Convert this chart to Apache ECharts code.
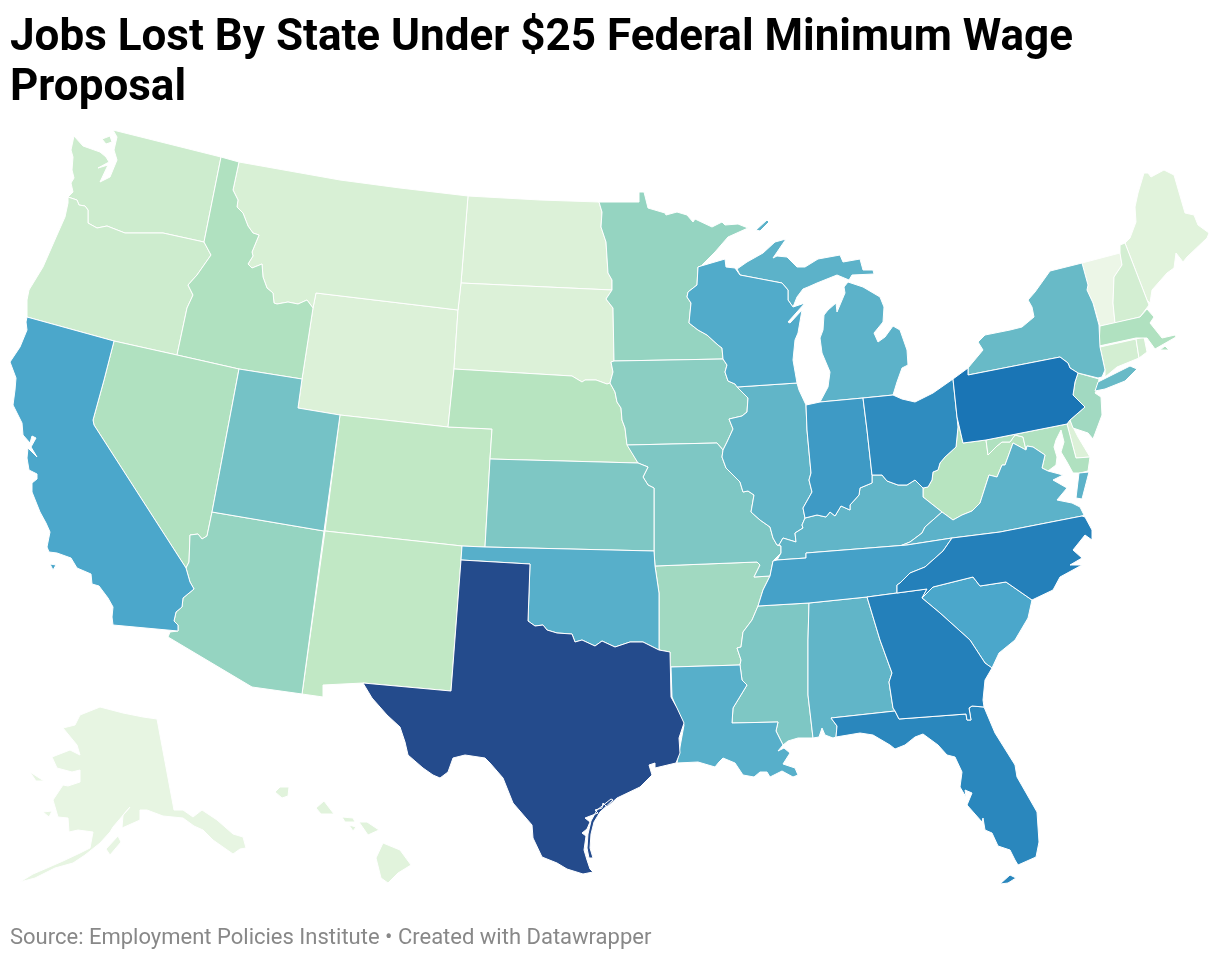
<!DOCTYPE html>
<html><head><meta charset="utf-8">
<style>html,body{margin:0;padding:0;background:#fff}#c{width:1220px;height:960px}</style>
<script src="https://cdn.jsdelivr.net/npm/echarts@6/dist/echarts.min.js"></script>
</head><body><div id="c"></div>
<script>
const titleText = "Jobs Lost By State Under $25 Federal Minimum Wage\nProposal";
const sourceText = "Source: Employment Policies Institute • Created with Datawrapper";
const rampColors = ['#eef7e8','#d9f0d6','#b9e5c0','#93d3c1','#6bbcc7','#4ba7cb','#2d8abe','#1a75b5','#244b8c'];
const stateNames = ['Alaska','Vermont','Maine','Hawaii','Wyoming','North Dakota','South Dakota','Delaware','Montana','New Hampshire','Connecticut','Rhode Island','Washington','Oregon','Colorado','New Mexico','Nebraska','West Virginia','Idaho','Nevada','Massachusetts','Maryland','New Jersey','Arkansas','Arizona','Minnesota','Iowa','Missouri','Kansas','Mississippi','Utah','New York','Alabama','Illinois','Kentucky','Michigan','Virginia','Louisiana','Oklahoma','Wisconsin','South Carolina','California','Tennessee','Indiana','Ohio','Florida','Georgia','North Carolina','Pennsylvania','Texas'];
const stateValues = [4,1,8,8,11,11,11,11,13,15,15,15,17,17,22,22,25.5,25.5,28,28,28,28,33,33,37,37,40,44,44,44,47,51,54,54,54,56,56,58,58,60,62.5,62.5,65,68,74,77,81,81,87.5,100];

const WA = ["68,197 73,192 71,183 74,178 72,170 73,157 71,150 74,136 83,146 100,152 106,157 109,162 98,168 108,165 100,182 110,177 117,160 114,150 117,137 113,130 221,157 204,242 163,233 140,233 125,233 107,226 97,228 88,223 88,210 85,206 79,205 77,200","102,139 110,136 112,142 106,144"];
const OR = ["68,197 77,200 79,205 85,206 88,210 88,223 97,228 107,226 125,233 140,233 163,233 204,242 211,255 197,275 188,285 193,295 187,308 177,355 114,341 27,317 27,312 27,300 29,290 43,267 57,235 65,217 68,203"];
const ID = ["221,157 239,162 233,190 238,200 237,207 243,213 248,226 253,233 259,235 252,252 253,256 248,264 252,268 262,264 263,277 267,288 273,293 274,303 277,304 288,302 298,304 307,300 313,308 302,379 239,369 177,355 187,308 193,295 188,285 197,275 211,255 204,242"];
const MT = ["239,162 340,180 400,188 468,196 461,283 458,310 316,293 313,308 307,300 298,304 288,302 277,304 274,303 273,293 267,288 263,277 262,264 252,268 248,264 253,256 252,252 259,235 253,233 248,226 243,213 237,207 238,200 233,190"];
const WY = ["316,293 458,310 454,369 448,427 340,415 298,408 302,379 313,308"];
const ND = ["468,196 540,200 599,202 602,212 601,227 606,242 608,273 612,280 612,290 461,283"];
const SD = ["461,283 612,290 606,299 613,308 614,361 611,362 613,372 610,383 607,384 596,380 585,380 582,382 572,376 454,369 458,310"];
const NE = ["454,369 572,376 582,382 585,380 596,380 607,384 610,383 615,392 617,402 621,408 622,420 625,428 627,444 638,463 490,459 492,429 448,427"];
const KS = ["490,459 638,463 648,467 643,477 648,485 654,488 654,551 485,547"];
const CO = ["340,415 448,427 492,429 490,459 485,547 462,546 325,531"];
const NM = ["325,531 462,546 461,560 451,691 363,683 323,685 323,697 302,694"];
const AZ = ["212,512 324,531 302,694 252,687 168,637 170,632 178,631 178,625 174,621 176,612 182,607 183,598 194,589 190,582 186,568 189,562 190,535 198,534 202,539 207,536"];
const NV = ["114,341 177,355 239,369 212,512 207,536 202,539 198,534 190,535 189,562 186,568 94,425 93,420 104,380"];
const CA = ["27,317 114,341 104,380 93,420 94,425 186,568 190,582 194,589 183,598 182,607 176,612 174,621 178,625 178,631 113,625 112,617 113,607 108,598 99,586 92,584 91,574 77,568 71,558 57,553 49,552 47,547 50,532 46,523 40,512 32,492 32,483 37,479 37,474 29,470 27,458 28,448 37,457 31,447 36,438 32,436 30,443 23,435 22,423 13,405 15,390 16,378 10,362 20,347 27,330 26,322","50,564 56,565 53,570"];
const UT = ["239,369 302,379 298,408 340,415 324,531 212,512"];
const MN = ["599,202 639,202 639,192 644,192 648,208 665,213 666,215 677,212 687,215 693,222 695,219 712,227 722,222 725,225 738,224 748,228 728,237 715,252 701,266 698,267 697,285 688,292 687,297 691,303 689,323 698,330 707,335 718,345 722,348 723,359 614,361 613,308 606,299 612,290 612,280 608,273 606,242 601,227 602,212"];
const IA = ["614,361 723,359 727,365 725,372 728,381 735,384 748,398 747,412 742,416 729,419 733,429 727,442 723,450 717,443 627,445 625,428 622,420 621,408 617,402 615,392 610,383 613,372 611,362"];
const MO = ["627,445 717,443 723,450 722,457 726,468 740,482 743,492 748,491 754,495 751,512 760,520 770,527 773,538 777,545 781,546 781,553 773,561 770,576 754,577 760,565 757,562 655,566 654,551 654,488 648,485 643,477 648,467 638,463"];
const OK = ["462,546 485,547 654,551 655,566 659,593 659,650 643,642 630,642 615,647 602,641 595,646 582,640 575,642 572,634 557,633 547,630 543,625 535,626 528,621 530,564 461,560"];
const TX = ["461,560 530,564 528,621 535,626 543,625 547,630 557,633 572,634 575,642 582,640 595,646 602,641 615,647 630,642 643,642 659,650 670,652 671,697 677,708 684,723 679,738 680,753 676,763 655,768 655,763 649,765 652,775 640,787 617,798 607,807 603,803 602,808 595,810 598,813 585,818 590,822 587,829 582,833 586,836 584,850 587,860 590,869 593,872 583,874 567,869 557,863 542,857 533,838 532,825 513,803 503,778 490,763 485,758 465,755 453,758 448,772 440,778 433,775 423,768 408,755 405,742 400,727 387,715 372,698 363,683 451,691","613,800 600,812 594,822 591,834 590,848 593,858 589,858 587,848 588,834 591,821 597,810 611,799"];
const AR = ["655,566 757,562 760,565 754,577 770,576 763,590 758,606 752,620 743,632 741,647 737,648 741,660 740,665 670,667 670,652 659,650 659,593"];
const LA = ["671,667 670,667 740,665 742,680 747,685 733,708 732,723 778,722 776,731 783,745 778,751 784,748 790,753 783,764 795,768 798,775 793,777 782,771 770,777 767,772 760,772 754,777 743,775 735,763 723,758 719,762 715,767 698,762 677,763 680,747 684,725 672,697"];
const MS = ["758,606 809,603 808,640 808,695 813,738 798,738 788,741 783,745 776,731 778,722 732,723 733,708 747,685 742,680 740,665 741,660 737,648 741,647 743,632 752,620"];
const AL = ["809,603 867,597 880,640 892,673 889,682 893,708 895,711 831,718 837,726 836,737 833,738 825,735 822,728 819,737 813,738 808,695 808,640"];
const GA = ["867,597 897,593 927,589 922,598 940,613 970,640 985,663 992,668 985,680 983,700 984,707 972,706 969,708 971,720 967,720 966,714 899,719 895,711 893,708 889,682 892,673 880,640"];
const FL = ["895,711 899,719 966,714 967,720 971,720 969,708 972,706 984,707 995,733 1015,765 1017,777 1037,812 1039,842 1036,857 1018,865 1015,860 1010,850 998,846 992,833 985,830 983,818 982,822 967,805 972,793 965,790 966,797 960,787 962,772 955,757 947,755 938,745 923,734 915,737 905,745 895,749 890,745 873,735 860,733 836,737 837,726 831,718","1000,884 1010,875 1016,878 1008,883"];
const SC = ["922,598 933,587 973,577 980,586 1006,582 1032,600 1028,618 1015,640 999,653 992,668 985,663 970,640 940,613"];
const NC = ["952,538 1000,532 1082,516 1085,517 1092,530 1092,540 1085,535 1073,550 1082,558 1070,565 1082,565 1060,577 1053,590 1032,600 1006,582 980,586 973,577 933,587 922,598 927,589 897,593 897,585 900,583 910,573 925,567 943,551"];
const VA = ["900,546 910,542 922,533 925,527 942,512 953,520 962,515 972,511 980,503 989,475 997,477 1002,465 1005,465 1013,443 1026,450 1027,446 1033,447 1045,455 1042,468 1048,471 1063,475 1053,480 1067,488 1057,500 1072,503 1080,507 1084,515 1082,516 1000,532 952,538","1076,498 1082,499 1089,472 1079,473"];
const KY = ["777,560 806,558 806,553 907,545 900,546 910,542 922,533 925,527 942,512 923,497 923,488 915,480 907,485 898,485 887,481 882,475 872,475 872,483 860,488 859,495 850,505 850,510 841,506 835,516 830,512 826,517 817,515 805,518 802,525 803,528 795,533 796,542 783,538 779,545 781,546 781,553"];
const TN = ["777,560 806,558 806,553 907,545 952,538 943,551 925,567 910,573 900,583 897,585 897,593 867,597 809,603 758,606 763,590 770,576 773,561"];
const IL = ["737,387 797,383 799,390 806,405 807,430 811,473 809,480 812,492 803,508 805,518 802,525 803,528 795,533 796,542 783,538 779,545 777,545 773,538 770,527 760,520 751,512 754,495 748,491 743,492 740,482 726,468 722,457 723,450 727,442 733,429 729,419 742,416 747,412 748,398"];
const IN = ["806,405 820,402 863,398 867,430 872,475 872,483 860,488 859,495 850,505 850,510 841,506 835,516 830,512 826,517 817,515 805,518 803,508 812,492 809,480 811,473 807,430"];
const OH = ["863,398 893,395 902,399 915,402 933,393 953,379 957,417 958,427 956,447 945,457 940,463 938,470 933,472 932,480 928,487 923,488 915,480 907,485 898,485 887,481 882,475 872,475 867,430"];
const WV = ["957,417 963,443 986,440 988,455 997,446 1002,442 1010,442 1015,435 1023,437 1026,450 1013,443 1005,465 1002,465 997,477 989,475 980,503 972,511 962,515 953,520 942,512 923,497 923,488 928,487 932,480 933,472 938,470 940,463 945,457 956,447 958,427"];
const MD = ["986,440 1067,424 1076,458 1090,457 1088,471 1080,473 1073,473 1067,462 1061,452 1064,442 1061,430 1056,440 1054,447 1057,457 1056,465 1048,471 1042,468 1045,455 1033,447 1027,446 1026,450 1023,437 1015,435 1010,442 1002,442 997,446 988,455"];
const DE = ["1067,424 1070,420 1073,427 1078,437 1090,457 1076,458"];
const NJ = ["1078,373 1099,379 1097,390 1095,393 1101,397 1102,415 1093,439 1088,433 1073,428 1070,420 1085,407 1073,395 1075,382"];
const PA = ["953,379 968,368 968,375 1060,357 1068,363 1070,368 1078,373 1075,382 1073,395 1085,407 1070,420 1067,424 986,440 963,443 957,417"];
const NY = ["968,368 983,350 978,342 985,335 1010,330 1022,327 1034,317 1032,307 1028,300 1035,292 1050,271 1082,263 1088,285 1087,290 1093,303 1099,325 1100,347 1105,370 1102,377 1098,378 1078,373 1070,368 1068,363 1060,357 968,375","1095,391 1098,382 1130,366 1137,369 1125,381 1105,389"];
const VT = ["1082,263 1120,253 1122,265 1114,277 1113,303 1115,323 1100,326 1099,325 1093,303 1087,290 1088,285"];
const NH = ["1120,245 1125,243 1147,300 1149,305 1140,317 1115,323 1113,303 1114,277 1122,265 1120,253"];
const ME = ["1125,243 1130,238 1136,222 1135,207 1138,193 1144,173 1148,173 1151,177 1164,170 1174,175 1185,213 1194,215 1198,225 1209,233 1207,238 1187,257 1183,262 1176,253 1174,268 1167,273 1152,290 1150,303 1147,300"];
const MA = ["1100,326 1140,317 1147,309 1154,317 1150,323 1162,338 1175,335 1176,337 1162,345 1155,349 1147,338 1136,338 1099,346","1160,350 1165,346 1169,350"];
const RI = ["1136,339 1144,337 1147,352 1139,358"];
const CT = ["1100,347 1136,339 1139,358 1117,367 1105,377 1105,370"];
const MI = ["820,402 863,398 893,395 897,382 902,368 908,365 907,350 900,330 893,326 885,337 878,342 874,333 883,322 884,307 880,297 863,287 848,282 844,287 845,293 837,312 836,303 828,310 824,315 823,330 820,338 822,353 830,372 828,387","737,269 747,262 763,253 775,242 786,239 773,258 777,256 787,257 797,267 805,267 818,259 840,255 843,262 860,259 863,270 873,270 874,274 852,275 849,280 837,275 817,283 808,287 803,289 797,297 793,307 788,300 788,290 782,283 740,275","756,230 767,220 769,222 760,231"];
const WI = ["698,267 701,266 725,259 726,267 735,268 740,275 782,283 788,290 788,300 793,307 805,303 788,322 790,323 802,310 798,333 795,340 793,360 797,383 737,387 735,384 728,381 725,372 727,365 723,359 722,348 718,345 707,335 698,330 689,323 691,303 687,297 688,292 697,285"];
const AK = ["157,719 174,810 183,810 193,817 202,810 217,820 233,834 243,837 246,848 240,849 233,854 213,840 203,830 194,826 183,818 163,816 147,810 140,810 140,820 122,828 123,815 130,807 113,827 110,832 100,843 85,855 73,863 55,868 35,878 20,882 33,874 47,868 63,861 80,853 90,848 93,832 78,830 69,832 68,818 58,817 53,800 63,785 68,786 80,782 80,770 72,772 57,768 52,757 70,750 80,755 77,745 63,728 75,725 80,715 100,707 123,713 143,717","106,849 118,836 121,842 110,855","30,772 44,781 36,781","43,812 52,811 49,817"];
const HI = ["275,792 280,787 289,787 288,796 282,798","316,808 324,801 334,814 321,814","342,817 353,818 355,822 345,822","349,825 356,827 353,831","359,822 367,822 379,830 368,835","383,843 400,850 411,865 398,873 388,883 381,878 376,858"];

const stateShapes = {Alaska:AK,Vermont:VT,Maine:ME,Hawaii:HI,Wyoming:WY,'North Dakota':ND,'South Dakota':SD,Delaware:DE,Montana:MT,'New Hampshire':NH,Connecticut:CT,'Rhode Island':RI,Washington:WA,Oregon:OR,Colorado:CO,'New Mexico':NM,Nebraska:NE,'West Virginia':WV,Idaho:ID,Nevada:NV,Massachusetts:MA,Maryland:MD,'New Jersey':NJ,Arkansas:AR,Arizona:AZ,Minnesota:MN,Iowa:IA,Missouri:MO,Kansas:KS,Mississippi:MS,Utah:UT,'New York':NY,Alabama:AL,Illinois:IL,Kentucky:KY,Michigan:MI,Virginia:VA,Louisiana:LA,Oklahoma:OK,Wisconsin:WI,'South Carolina':SC,California:CA,Tennessee:TN,Indiana:IN,Ohio:OH,Florida:FL,Georgia:GA,'North Carolina':NC,Pennsylvania:PA,Texas:TX};

function ring(s){const r=s.trim().split(/\s+/).map(p=>p.split(',').map(Number));r.push(r[0].slice());return r;}
const geo = {type:'FeatureCollection',features:stateNames.map(n=>({type:'Feature',properties:{name:n},geometry:{type:'MultiPolygon',coordinates:stateShapes[n].map(s=>[ring(s)])}}))};
echarts.registerMap('usa',geo);

const chart = echarts.init(document.getElementById('c'),null,{renderer:'canvas'});
const identity = {project:p=>[p[0],p[1]],unproject:p=>[p[0],p[1]]};
chart.setOption({
  backgroundColor:'#fff',
  animation:false,
  title:[
    {text:titleText,left:10,top:14,padding:0,textStyle:{fontFamily:'Roboto',fontWeight:700,fontSize:44,lineHeight:50,color:'#000'}},
    {text:sourceText,left:10,top:927,padding:0,textStyle:{fontFamily:'Roboto',fontWeight:400,fontSize:22,color:'#888'}}
  ],
  visualMap:{show:false,type:'continuous',min:0,max:100,seriesIndex:0,inRange:{color:rampColors}},
  series:[{
    type:'map',map:'usa',
    projection:identity,
    boundingCoords:[[0,0],[1220,960]],
    left:0,top:0,width:1220,height:960,
    roam:false,silent:true,
    label:{show:false},
    itemStyle:{borderColor:'#fff',borderWidth:1},
    emphasis:{disabled:true},
    data:stateNames.map((n,i)=>({name:n,value:stateValues[i]}))
  }]
});
</script></body></html>
